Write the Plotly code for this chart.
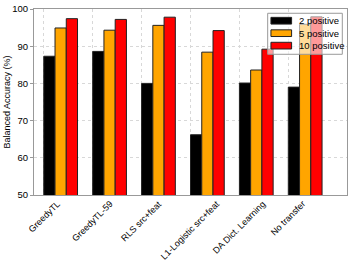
import plotly.graph_objects as go

categories = ["GreedyTL", "GreedyTL-59", "RLS src+feat", "L1-Logistic src+feat",
              "DA Dict. Learning", "No transfer"]
series_names = ["2 positive", "5 positive", "10 positive"]
vals_2 = [87.3, 88.6, 80.0, 66.2, 80.1, 79.0]
vals_5 = [94.9, 94.3, 95.6, 88.4, 83.6, 95.9]
vals_10 = [97.4, 97.2, 97.8, 94.2, 89.2, 97.9]
y_ticks = [50, 60, 70, 80, 90, 100]

colors = ["#000000", "#FFA500", "#FF0000"]
w = 0.23
pos = list(range(len(categories)))
font = "Liberation Sans, Arial, sans-serif"

fig = go.Figure()
for k, (name, vals) in enumerate(zip(series_names, [vals_2, vals_5, vals_10])):
    fig.add_trace(go.Bar(
        x=pos, y=vals, name=name, width=w, offset=k * w, showlegend=False,
        marker=dict(color=colors[k], line=dict(color="#222222", width=1)),
    ))

for i, c in enumerate(categories):
    fig.add_annotation(x=i, y=0, xref="x", yref="paper", text=c, textangle=-45,
                       showarrow=False, xanchor="center", yanchor="top",
                       yshift=-1,
                       font=dict(family=font, size=9, color="#000"))

# legend (drawn in paper coordinates, semi-transparent like the original)
leg_box = dict(x0=0.7466, x1=0.985, y0=0.7565, y1=0.977)
sw_x0, sw_x1, sw_h = 0.757, 0.823, 0.018
txt_x = 0.839
row_y = [0.937, 0.870, 0.803]
fig.add_shape(type="rect", xref="paper", yref="paper", layer="above",
              fillcolor="rgba(255,255,255,0.6)", line=dict(color="#999999", width=1),
              **leg_box)
for k, name in enumerate(series_names):
    fig.add_shape(type="rect", xref="paper", yref="paper", layer="above",
                  x0=sw_x0, x1=sw_x1, y0=row_y[k] - sw_h, y1=row_y[k] + sw_h,
                  fillcolor=colors[k], line=dict(color="#222222", width=1))
    fig.add_annotation(x=txt_x, y=row_y[k], xref="paper", yref="paper", text=name,
                       showarrow=False, xanchor="left", yanchor="middle",
                       font=dict(family=font, size=9.5, color="#000"))

fig.update_layout(
    width=352, height=262,
    margin=dict(l=34, r=5, t=9, b=67, autoexpand=False),
    barmode="overlay",
    plot_bgcolor="white", paper_bgcolor="white",
    font=dict(family=font, size=9.5, color="#000"),
    showlegend=False,
)
fig.update_xaxes(range=[-0.2, 6.2], tickvals=pos, showticklabels=False,
                 showgrid=True, gridcolor="#d8d8d8", griddash="dot", gridwidth=1,
                 showline=True, linecolor="#999999", linewidth=1, mirror=True,
                 ticks="", zeroline=False, automargin=False)
fig.update_yaxes(range=[50, 100], tickvals=y_ticks,
                 showgrid=True, gridcolor="#d8d8d8", griddash="dot", gridwidth=1,
                 showline=True, linecolor="#999999", linewidth=1, mirror=True,
                 ticks="outside", ticklen=3, tickcolor="#999999", zeroline=False,
                 automargin=False,
                 title=dict(text="Balanced Accuracy (%)", standoff=0,
                            font=dict(family=font, size=9)),
                 tickfont=dict(family=font, size=9.5))

fig.write_html("out.html", config={"displayModeBar": False},
               post_script="document.body.style.margin='0';")
